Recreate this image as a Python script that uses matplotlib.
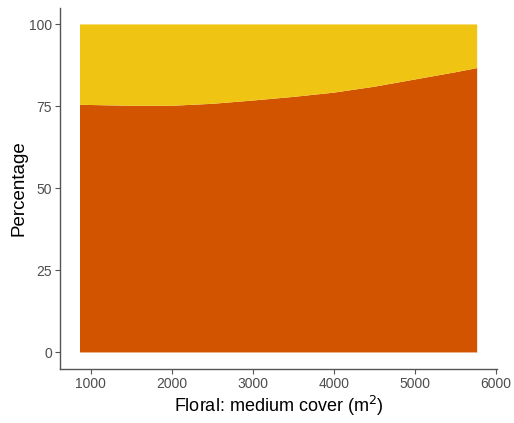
import numpy as np
import matplotlib
matplotlib.use("Agg")
import matplotlib.pyplot as plt

# Floral medium cover (m^2) and predicted share of the lower group (%)
cover = [865, 1500, 2000, 2500, 3000, 3500, 4000, 4500, 5000, 5500, 5773]
lower_pct = [75.5, 75.2, 75.2, 75.8, 76.8, 77.9, 79.2, 81.0, 83.2, 85.4, 86.7]
upper_pct = [100 - v for v in lower_pct]

x_ticks = [1000, 2000, 3000, 4000, 5000, 6000]
y_ticks = [0, 25, 50, 75, 100]

colors = ["#D35400", "#F0C412"]

plt.rcParams['font.family'] = ['Liberation Sans', 'DejaVu Sans']

fig = plt.figure(figsize=(5.14, 4.23), dpi=100)
ax = fig.add_axes([0.117, 0.128, 0.850, 0.853])

ax.stackplot(cover, lower_pct, upper_pct, colors=colors, linewidth=0)

# ggplot-style expanded limits
span = cover[-1] - cover[0]
ax.set_xlim(cover[0] - 0.05 * span, cover[-1] + 0.05 * span)
ax.set_ylim(-5, 105)
ax.set_xticks(x_ticks)
ax.set_yticks(y_ticks)

for side in ["top", "right"]:
    ax.spines[side].set_visible(False)
for side in ["left", "bottom"]:
    ax.spines[side].set_color("#555555")
    ax.spines[side].set_linewidth(1.0)

ax.tick_params(colors="#555555", labelcolor="#4D4D4D", labelsize=10,
               length=3.5, width=0.8, pad=2.5)
ax.set_xlabel("Floral: medium cover (m$^2$)", fontsize=13, labelpad=2)
ax.set_ylabel("Percentage", fontsize=13.5)
ax.yaxis.set_label_coords(-0.074, 0.5)

fig.savefig("out.png", dpi=100)
